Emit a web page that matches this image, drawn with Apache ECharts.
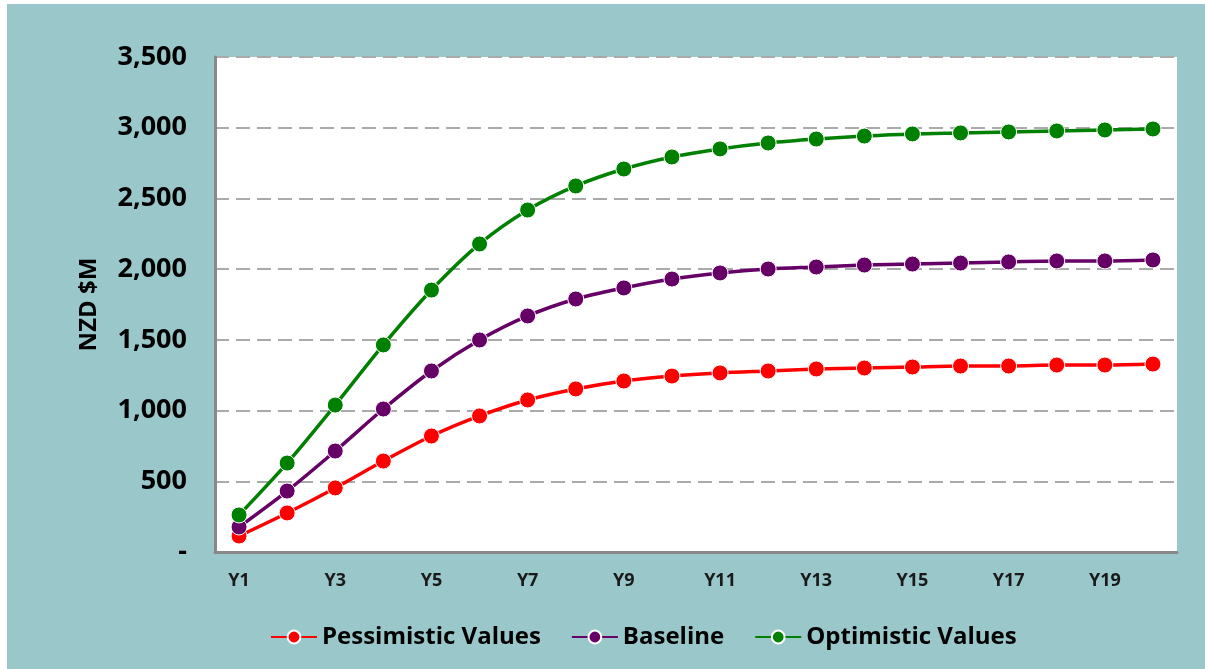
<!DOCTYPE html>
<html>
<head>
<meta charset="utf-8">
<script src="https://cdn.jsdelivr.net/npm/echarts@6/dist/echarts.min.js"></script>
<style>
  html, body { margin: 0; padding: 0; background: #fff; }
  #main { position: absolute; left: 7px; top: 4px; width: 1198px; height: 665px; background: #99C7CA; }
</style>
</head>
<body>
<div id="main"></div>
<script>
// categories
const years = ["Y1","Y2","Y3","Y4","Y5","Y6","Y7","Y8","Y9","Y10","Y11","Y12","Y13","Y14","Y15","Y16","Y17","Y18","Y19","Y20"];
// series values (NZD $M)
const pessimistic = [113, 276, 453, 643, 820, 962, 1075, 1153, 1209, 1244, 1266, 1280, 1294, 1301, 1308, 1315, 1315, 1322, 1322, 1329];
const baseline = [177, 431, 714, 1011, 1280, 1499, 1669, 1789, 1867, 1930, 1973, 2001, 2015, 2029, 2036, 2043, 2051, 2058, 2058, 2065];
const optimistic = [262, 629, 1039, 1464, 1852, 2178, 2418, 2588, 2708, 2793, 2850, 2892, 2920, 2941, 2956, 2963, 2970, 2977, 2984, 2991];

const font = "'Open Sans', 'Liberation Sans', sans-serif";

function lineSeries(name, data, color) {
  return {
    name: name,
    type: "line",
    data: data,
    smooth: 0.3,
    symbol: "circle",
    symbolSize: 16,
    lineStyle: { color: color, width: 3.5 },
    itemStyle: { color: color, borderColor: "#fff", borderWidth: 1 }
  };
}

let myChart = echarts.init(document.getElementById("main"));
myChart.setOption({
  animation: false,
  textStyle: { fontFamily: font },
  grid: { show: true, backgroundColor: "#fff", borderWidth: 0, left: 208, right: 28, top: 53, bottom: 117 },
  legend: {
    bottom: 15,
    left: 258,
    itemWidth: 46,
    itemHeight: 16,
    itemGap: 30,
    textStyle: { fontSize: 24, fontWeight: "bold", color: "#000", fontFamily: font },
    data: ["Pessimistic Values", "Baseline", "Optimistic Values"]
  },
  xAxis: {
    type: "category",
    data: years,
    axisLine: { lineStyle: { color: "#888", width: 3 } },
    axisTick: { show: false },
    axisLabel: {
      interval: 1,
      margin: 20,
      fontSize: 18,
      fontWeight: "bold",
      color: "#1a1a1a"
    }
  },
  yAxis: {
    type: "value",
    min: 0,
    max: 3500,
    interval: 500,
    name: "NZD $M",
    nameLocation: "middle",
    nameGap: 114,
    nameTextStyle: { fontSize: 24, fontWeight: "bold", color: "#000" },
    axisLine: { show: true, lineStyle: { color: "#888", width: 3 } },
    axisTick: { show: false },
    axisLabel: {
      margin: 28,
      fontSize: 27,
      fontWeight: "bold",
      color: "#000",
      formatter: v => v === 0 ? "-" : v.toLocaleString("en-US")
    },
    splitLine: { lineStyle: { color: "#aaa", type: [14, 7], width: 2 } }
  },
  series: [
    lineSeries("Pessimistic Values", pessimistic, "#FF0000"),
    lineSeries("Baseline", baseline, "#660066"),
    lineSeries("Optimistic Values", optimistic, "#008000")
  ]
});
</script>
</body>
</html>
